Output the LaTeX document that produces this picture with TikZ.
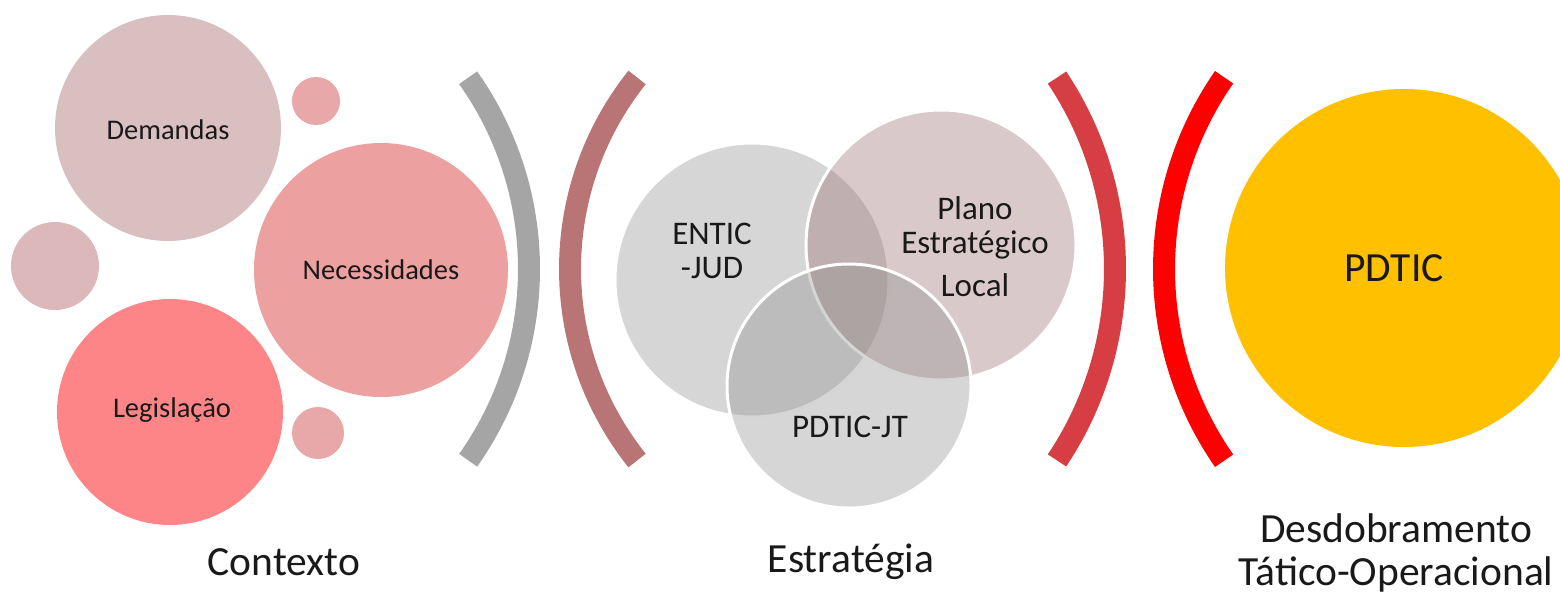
\documentclass[tikz,border=0pt]{standalone}
\usepackage{fontspec}
\setmainfont{Carlito}
\definecolor{demcol}{HTML}{D9BFC0}
\definecolor{smallpink}{HTML}{E8A7A8}
\definecolor{leftsmall}{HTML}{DCB8BA}
\definecolor{neccol}{HTML}{EDA0A0}
\definecolor{legcol}{HTML}{FE8587}
\definecolor{graybr}{HTML}{A5A5A5}
\definecolor{mauvebr}{HTML}{B97476}
\definecolor{vgray}{HTML}{8F8F8F}
\definecolor{vplano}{HTML}{986D70}
\definecolor{redbr}{HTML}{D63E44}
\definecolor{purered}{HTML}{FF0000}
\definecolor{pdticcol}{HTML}{FFC000}
\begin{document}
\begin{tikzpicture}[x=1pt,y=1pt,
  blob/.style={circle, inner sep=0pt, draw=none, minimum size=#1},
  vcirc/.style={circle, inner sep=0pt, minimum size=#1, draw=white, line width=3pt, fill opacity=0.37},
  lbl/.style={font=\fontsize{28.5}{30}\selectfont, text=black!90, align=center, inner sep=0pt},
  vlbl/.style={font=\fontsize{33}{34}\selectfont, text=black!90, align=center, inner sep=0pt},
  biglbl/.style={font=\fontsize{41.5}{43}\selectfont, text=black!90, align=center, inner sep=0pt},
  bracket/.style={line width=22pt}
]
\useasboundingbox (0,0) rectangle (1560,-599);
\clip (0,0) rectangle (1560,-599);

% Contexto
\node[blob=226pt, fill=demcol] (dem) at (168,-128) {};
\node[blob=48pt, fill=smallpink] (st) at (316,-101) {};
\node[blob=88pt, fill=leftsmall] (sl) at (55,-266) {};
\node[blob=254pt, fill=neccol] (nec) at (381,-270) {};
\node[blob=226pt, fill=legcol] (leg) at (170,-412) {};
\node[blob=52pt, fill=smallpink] (sb) at (318,-433) {};
\node[lbl] (tdem) at (168,-130) {Demandas};
\node[lbl] (tnec) at (381,-270) {Necessidades};
\node[lbl] (tleg) at (172,-410) {Legislação};
\node[biglbl] (tcon) at (284,-562) {Contexto};

% brackets
\draw[bracket, graybr] (198,-269) ++(35.3:331pt) arc[start angle=35.3, end angle=-35.3, radius=331pt];
\draw[bracket, mauvebr] (877,-269) ++(141.4:307pt) arc[start angle=141.4, end angle=218.6, radius=307pt];
\draw[bracket, redbr] (770,-269) ++(33.7:345pt) arc[start angle=33.7, end angle=-33.7, radius=345pt];
\draw[bracket, purered] (1500,-269) ++(145.2:336pt) arc[start angle=145.2, end angle=214.8, radius=336pt];

% Estrategia (Venn)
\node[vcirc=274pt, fill=vgray] (entic) at (752,-280) {};
\node[vcirc=270pt, fill=vplano] (plano) at (941,-245) {};
\node[vcirc=244pt, fill=vgray] (pdjt) at (849,-386) {};
\node[vlbl] (tentic) at (712,-251) {ENTIC\\-JUD};
\node[vlbl] (tplano) at (975,-247) {Plano\\Estratégico\\[9pt]Local};
\node[vlbl] (tpdjt) at (850,-427) {PDTIC-JT};
\node[biglbl] (test) at (851,-562) {Estratégia};

% Desdobramento
\node[blob=358pt, fill=pdticcol] (pdtic) at (1404,-268) {};
\node[biglbl] (tpdtic) at (1394,-268) {PDTIC};
\node[biglbl] (tdes) at (1396,-553) {Desdobramento\\Tático-Operacional};
\end{tikzpicture}
\end{document}
